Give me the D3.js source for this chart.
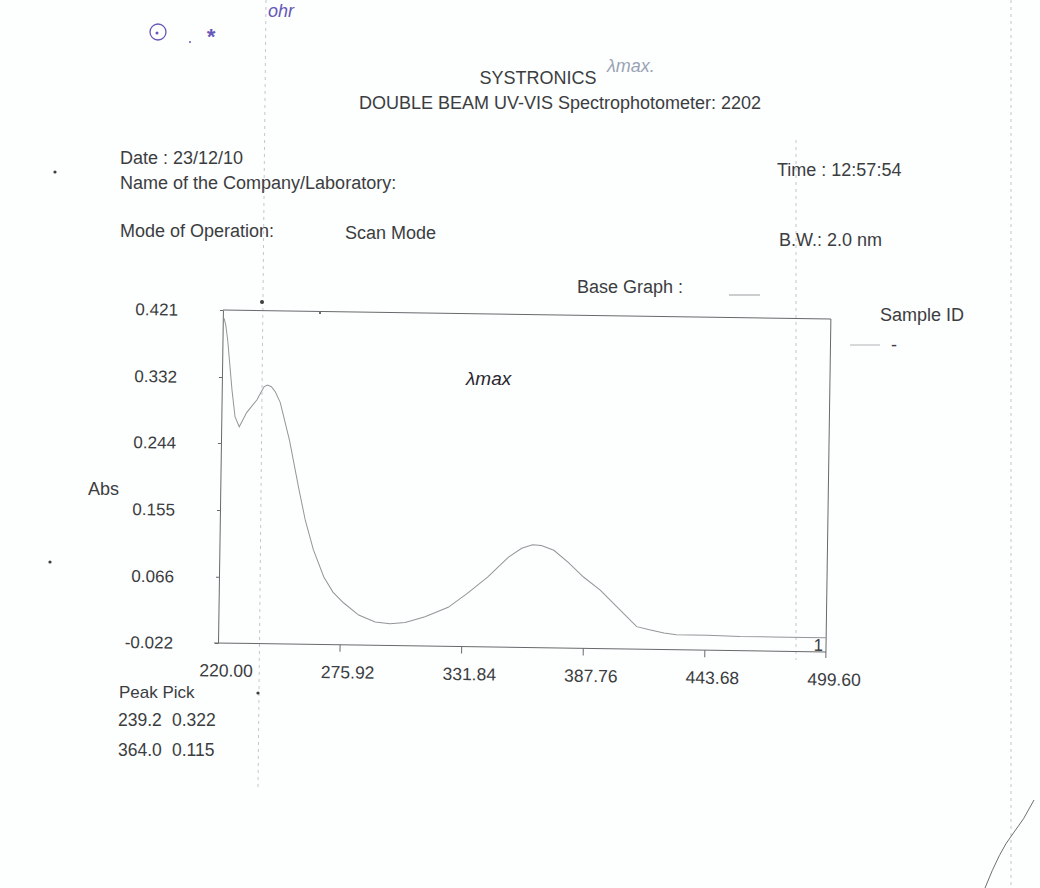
<!DOCTYPE html>
<html>
<head>
<meta charset="utf-8">
<script src="https://cdn.jsdelivr.net/npm/d3@7/dist/d3.min.js"></script>
<style>
  html, body { margin: 0; padding: 0; background: #fdfefe; }
  svg { display: block; }
  text { font-family: "Liberation Sans", Arial, sans-serif; fill: #3b3d3f; }
</style>
</head>
<body>
<svg id="chart" width="1040" height="888"></svg>
<script>
// ---------- data (read from the scanned print-out) ----------
const wavelengths = [220.6, 221.4, 222.4, 224.7, 226.3, 228.3, 231.6, 236.2, 238.0, 239.5, 241.0, 242.8,
  244.7, 247.0, 251.5, 256.1, 259.3, 263.2, 268.2, 272.5, 277.4, 284.5, 292.1, 299.0, 305.9, 315.0,
  325.6, 334.3, 343.5, 353.0, 359.0, 364.0, 368.0, 373.8, 380.5, 387.6, 395.4, 403.2, 412.4, 418.3,
  425.0, 430.7, 445.0, 460.0, 475.0, 490.0, 499.6];
const absorbance = [0.410, 0.401, 0.381, 0.315, 0.279, 0.266, 0.285, 0.302, 0.312, 0.320, 0.322, 0.320,
  0.313, 0.299, 0.249, 0.185, 0.143, 0.104, 0.068, 0.048, 0.034, 0.018, 0.009, 0.007, 0.009, 0.017,
  0.030, 0.049, 0.071, 0.098, 0.110, 0.115, 0.114, 0.108, 0.092, 0.073, 0.056, 0.034, 0.008, 0.004,
  0.000, -0.002, -0.002, -0.003, -0.003, -0.003, -0.003];
const xTickValues = [220.00, 275.92, 331.84, 387.76, 443.68, 499.60];
const yTickValues = [0.421, 0.332, 0.244, 0.155, 0.066, -0.022];
const peakWavelengths = ["239.2", "364.0"];
const peakValues = ["0.322", "0.115"];
const headerLines = ["SYSTRONICS", "DOUBLE BEAM UV-VIS Spectrophotometer: 2202"];

const svg = d3.select("#chart");

// faint scanner streaks and specks
const streaks = svg.append("g").attr("stroke", "#b5b8ba").attr("stroke-width", 1)
  .attr("stroke-dasharray", "3,4").attr("fill", "none").attr("opacity", 0.8);
streaks.append("line").attr("x1", 266).attr("y1", 0).attr("x2", 258).attr("y2", 790);
streaks.append("line").attr("x1", 796).attr("y1", 140).attr("x2", 796).attr("y2", 660);
streaks.append("line").attr("x1", 1011).attr("y1", 0).attr("x2", 1011).attr("y2", 888);
svg.append("path").attr("d", "M985,888 Q1000,850 1012,835 T1034,800")
  .attr("fill", "none").attr("stroke", "#6d7073").attr("stroke-width", 1);
const specks = [[262, 302, 2], [258, 693, 1.6], [55, 172, 1.6], [50, 562, 1.6], [320, 313, 1]];
svg.append("g").selectAll("circle").data(specks).join("circle")
  .attr("cx", d => d[0]).attr("cy", d => d[1]).attr("r", d => d[2]).attr("fill", "#3c3e40");

// ---------- header text ----------
svg.append("text").attr("x", 538).attr("y", 84).attr("text-anchor", "middle")
  .attr("font-size", 18).text(headerLines[0]);
svg.append("text").attr("x", 560).attr("y", 109).attr("text-anchor", "middle")
  .attr("font-size", 18).text(headerLines[1]);

const info = [
  {t: "Date : 23/12/10", x: 120, y: 164},
  {t: "Name of the Company/Laboratory:", x: 120, y: 189},
  {t: "Mode of Operation:", x: 120, y: 237},
  {t: "Scan Mode", x: 345, y: 239},
  {t: "Time : 12:57:54", x: 777, y: 176},
  {t: "B.W.: 2.0 nm", x: 779, y: 246},
  {t: "Base Graph :", x: 577, y: 293},
  {t: "Sample ID", x: 880, y: 321},
  {t: "-", x: 891, y: 351},
  {t: "Abs", x: 88, y: 495}
];
svg.append("g").selectAll("text").data(info).join("text")
  .attr("x", d => d.x).attr("y", d => d.y).attr("font-size", 18).text(d => d.t);
svg.append("text").attr("x", 119).attr("y", 698).attr("font-size", 17).text("Peak Pick");
svg.append("line").attr("x1", 729).attr("x2", 760).attr("y1", 295).attr("y2", 295)
  .attr("stroke", "#9a9c9e");
svg.append("line").attr("x1", 850).attr("x2", 880).attr("y1", 345).attr("y2", 345)
  .attr("stroke", "#b0b2b4");

// peak pick table
const peaks = svg.append("g").attr("font-size", 17.5);
peakWavelengths.forEach((w, i) => {
  peaks.append("text").attr("x", 118).attr("y", 726 + i * 30).text(w);
  peaks.append("text").attr("x", 172).attr("y", 726 + i * 30).text(peakValues[i]);
});

// ---------- handwritten notes ----------
const hand = svg.append("g").attr("font-family", "DejaVu Serif, serif").attr("font-style", "italic");
hand.append("text").attr("x", 268).attr("y", 17).attr("font-size", 18).style("fill", "#6657b8").text("ohr");
hand.append("circle").attr("cx", 158).attr("cy", 32).attr("r", 8).attr("fill", "none")
  .attr("stroke", "#6657b8").attr("stroke-width", 1.3);
hand.append("circle").attr("cx", 157).attr("cy", 33).attr("r", 1.5).attr("fill", "#6657b8");
hand.append("circle").attr("cx", 190).attr("cy", 42).attr("r", 1).attr("fill", "#6657b8");
hand.append("text").attr("x", 206).attr("y", 44).attr("font-size", 22).attr("font-weight", "bold")
  .style("fill", "#6657b8").text("*");
hand.append("text").attr("x", 607).attr("y", 72).attr("font-size", 18).style("fill", "#9aa3b5").text("λmax.");
hand.append("text").attr("x", 466).attr("y", 385).attr("font-size", 19).style("fill", "#2a2630").text("λmax");

// ---------- plot ----------
const plotLeft = 218, plotRight = 826, plotTop = 310, plotBottom = 643;
const x = d3.scaleLinear().domain([xTickValues[0], xTickValues[xTickValues.length - 1]]).range([plotLeft, plotRight]);
const y = d3.scaleLinear().domain([yTickValues[yTickValues.length - 1], yTickValues[0]]).range([plotBottom, plotTop]);

// the scanned page is slightly tilted
const plot = svg.append("g").attr("transform", `rotate(0.85, ${plotLeft}, ${plotBottom})`);

const axisColor = "#67696c";
// frame (top + right)
plot.append("line").attr("x1", x(xTickValues[0])).attr("x2", x(xTickValues[5]))
  .attr("y1", y(yTickValues[0])).attr("y2", y(yTickValues[0])).attr("stroke", axisColor);
plot.append("line").attr("x1", x(xTickValues[5])).attr("x2", x(xTickValues[5]))
  .attr("y1", y(yTickValues[0])).attr("y2", y(yTickValues[5]) + 6).attr("stroke", axisColor);

const yAxis = plot.append("g").attr("transform", `translate(${plotLeft},0)`)
  .call(d3.axisLeft(y).tickValues(yTickValues).tickSize(3).tickSizeOuter(0).tickPadding(42)
    .tickFormat(d => d.toFixed(3)));
yAxis.selectAll("path, line").attr("stroke", axisColor);
yAxis.selectAll("text").attr("font-size", 17).attr("font-family", "Liberation Sans, Arial, sans-serif")
  .attr("fill", "#3b3d3f").attr("dy", "0.34em");

const xAxis = plot.append("g").attr("transform", `translate(0,${plotBottom})`)
  .call(d3.axisBottom(x).tickValues(xTickValues).tickSize(7).tickSizeOuter(0).tickPadding(14)
    .tickFormat(d => d.toFixed(2)));
xAxis.select("path").attr("stroke", axisColor).attr("d", `M${plotLeft - 4},0H${plotRight}`);
xAxis.selectAll("line").attr("stroke", axisColor);
xAxis.selectAll(".tick").filter(d => d === xTickValues[0] || d === xTickValues[5]).select("line").remove();
xAxis.selectAll("text").attr("font-size", 17.5).attr("font-family", "Liberation Sans, Arial, sans-serif")
  .attr("fill", "#3b3d3f").attr("dx", 8);

// spectrum trace
const line = d3.line().x((d, i) => x(wavelengths[i])).y(d => y(d));
plot.append("path").datum(absorbance).attr("d", line)
  .attr("fill", "none").attr("stroke", "#939699").attr("stroke-width", 1);

// trace number
plot.append("text").attr("x", x(xTickValues[5]) - 3).attr("y", y(yTickValues[5]) - 1)
  .attr("text-anchor", "end").attr("font-size", 17).text("1");
</script>
</body>
</html>
